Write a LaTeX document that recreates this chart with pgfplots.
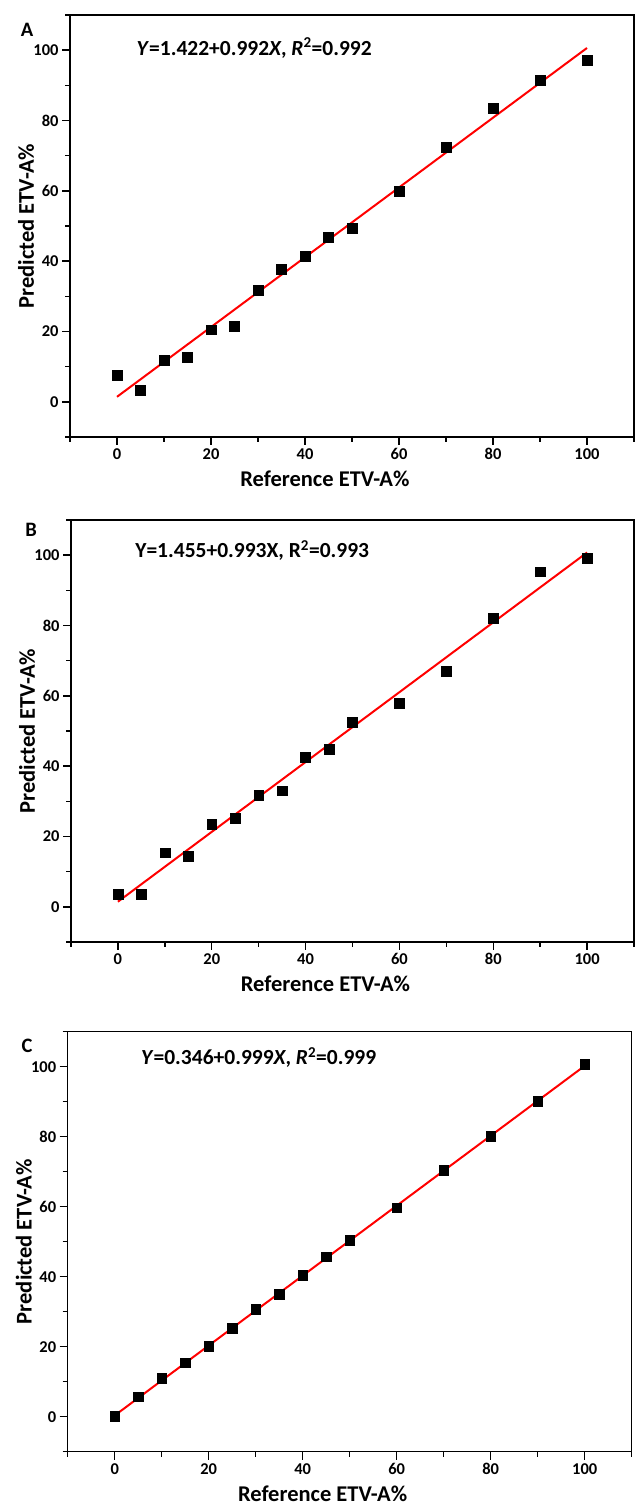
\documentclass[border=0pt]{standalone}
\usepackage{fontspec}
\setmainfont{Carlito}
\usepackage{pgfplots}
\pgfplotsset{compat=1.18}

\pgfplotsset{
  etv/.style={
    width=564bp, height=422bp, scale only axis,
    xmin=-10, xmax=110, ymin=-10, ymax=110,
    xtick={0,20,...,100}, ytick={0,20,...,100},
    minor xtick={-10,10,...,110}, minor ytick={-10,10,...,110},
    tick align=outside, xtick pos=bottom, ytick pos=left,
    major tick length=8bp, minor tick length=5bp,
    axis line style={line width=1.4bp},
    every tick/.style={black, line width=1.4bp},
    tick label style={font=\fontsize{16.5bp}{19bp}\selectfont\bfseries},
    /pgf/number format/assume math mode=true,
    label style={font=\fontsize{22.5bp}{26bp}\selectfont\bfseries},
    xlabel={Reference ETV-A\%}, ylabel={Predicted ETV-A\%},
    xlabel style={at={(axis description cs:0.452,-0.1175)}, anchor=base},
    ylabel style={at={(axis description cs:-0.078,0.5)}, anchor=center},
    clip=false,
  },
  pts/.style={only marks, mark=square*, mark size=4.9bp, black},
  fit/.style={red, line width=2bp, no marks},
}
\newcommand{\eqfont}{\fontsize{21.5bp}{25bp}\selectfont\bfseries}
\newcommand{\letterfont}{\fontsize{20.5bp}{24bp}\selectfont\bfseries}

\begin{document}
\begin{tikzpicture}
\useasboundingbox (0,0) rectangle (636bp,1506bp);

% A
\begin{axis}[etv, at={(70bp,1069bp)}]
\addplot[pts] coordinates {
  (0,7.5)(5,3.3)(10,11.9)(15,12.7)(20,20.5)(25,21.5)(30,31.8)(35,37.8)
  (40,41.5)(45,46.9)(50,49.4)(60,60.0)(70,72.4)(80,83.5)(90,91.4)(100,97.1)};
\addplot[fit] coordinates {(0,1.422)(100,100.622)};
\node[anchor=base west, font=\eqfont] at (axis description cs:0.112,0.905)
  {\textit{Y}=1.422+0.992\textit{X}, \textit{R}\textsuperscript{2}=0.992};
\node[font=\letterfont] at (axis description cs:-0.076,0.964) {A};
\end{axis}

% B
\begin{axis}[etv, at={(71bp,564bp)}, width=563bp]
\addplot[pts] coordinates {
  (0,3.5)(5,3.7)(10,15.4)(15,14.5)(20,23.4)(25,25.1)(30,31.7)(35,33.0)
  (40,42.6)(45,44.9)(50,52.5)(60,58.0)(70,67.0)(80,82.1)(90,95.3)(100,99.1)};
\addplot[fit] coordinates {(0,1.455)(100,100.755)};
\node[anchor=base west, font=\eqfont] at (axis description cs:0.108,0.91)
  {Y=1.455+0.993X, R\textsuperscript{2}=0.993};
\node[font=\letterfont] at (axis description cs:-0.071,0.976) {B};
\end{axis}

% C
\begin{axis}[etv, at={(67.7bp,54.3bp)}, height=420bp]
\addplot[pts] coordinates {
  (0,0.2)(5,5.7)(10,11.1)(15,15.4)(20,20.2)(25,25.3)(30,30.7)(35,35.1)
  (40,40.5)(45,45.7)(50,50.5)(60,59.7)(70,70.4)(80,80.2)(90,90.2)(100,100.7)};
\addplot[fit] coordinates {(0,0.346)(100,100.246)};
\node[anchor=base west, font=\eqfont] at (axis description cs:0.124,0.921)
  {\textit{Y}=0.346+0.999\textit{X}, \textit{R}\textsuperscript{2}=0.999};
\node[font=\letterfont] at (axis description cs:-0.072,0.966) {C};
\end{axis}
\end{tikzpicture}
\end{document}
